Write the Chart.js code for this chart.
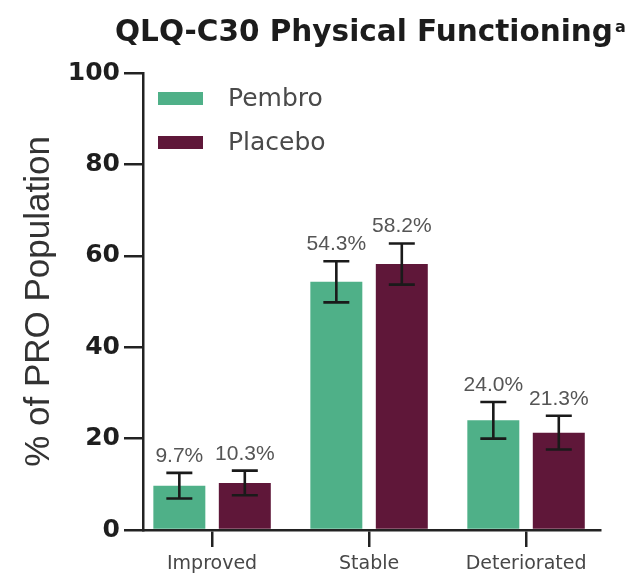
<!DOCTYPE html>
<html>
<head>
<meta charset="utf-8">
<title>QLQ-C30 Physical Functioning</title>
<script src="https://cdn.jsdelivr.net/npm/chart.js@4.4.1/dist/chart.umd.min.js"></script>
<style>
  html, body { margin: 0; padding: 0; background: #ffffff; }
  #wrap { width: 637px; height: 576px; position: relative; }
  canvas { display: block; }
</style>
</head>
<body>
<div id="wrap"><canvas id="chart" width="637" height="576"></canvas></div>
<script>
// Response categories on the x axis
const categories = ['Improved', 'Stable', 'Deteriorated'];

// Series names
const seriesNames = ['Pembro', 'Placebo'];

// Percent of PRO population per category
const pembroValues = [9.7, 54.3, 24.0];
const placeboValues = [10.3, 58.2, 21.3];

// Half-width of the error bars (percentage points)
const pembroErrors = [2.8, 4.5, 4.0];
const placeboErrors = [2.7, 4.5, 3.7];

// Y axis ticks
const yTicks = [0, 20, 40, 60, 80, 100];

const chartTitle = 'QLQ-C30 Physical Functioning';
const chartTitleNote = 'a';
const yAxisTitle = '% of PRO Population';

const seriesColors = ['#4fb088', '#5f1739'];

const toPoints = (values) => values.map((v, i) => ({ x: i, y: v }));

// Title with a superscript footnote marker
const titlePlugin = {
  id: 'titleWithNote',
  afterDraw(chart) {
    const ctx = chart.ctx;
    ctx.save();
    ctx.fillStyle = '#1c1c1c';
    ctx.textAlign = 'left';
    ctx.textBaseline = 'alphabetic';
    ctx.font = 'bold 29.5px "DejaVu Sans"';
    const x0 = 115;
    ctx.fillText(chartTitle, x0, 41);
    const w = ctx.measureText(chartTitle).width;
    ctx.font = 'bold 16px "DejaVu Sans"';
    ctx.fillText(chartTitleNote, x0 + w + 2, 32);
    ctx.restore();
  }
};

// Legend in the upper-left of the plot area
const legendPlugin = {
  id: 'insideLegend',
  afterDraw(chart) {
    const ctx = chart.ctx;
    ctx.save();
    chart.data.datasets.forEach((ds, i) => {
      const cy = 98.5 + i * 44;
      ctx.fillStyle = ds.backgroundColor;
      ctx.fillRect(158, cy - 6.5, 45, 13);
      ctx.fillStyle = '#4a4a4a';
      ctx.font = '25px "DejaVu Sans"';
      ctx.textAlign = 'left';
      ctx.textBaseline = 'middle';
      ctx.fillText(ds.label, 228, cy + 1);
    });
    ctx.restore();
  }
};

// Error bars and value labels on top of each bar
const errorBarPlugin = {
  id: 'errorBars',
  afterDatasetsDraw(chart) {
    const ctx = chart.ctx;
    const yScale = chart.scales.y;
    ctx.save();
    chart.data.datasets.forEach((ds, di) => {
      const meta = chart.getDatasetMeta(di);
      meta.data.forEach((bar, i) => {
        const v = ds.data[i].y;
        const e = ds.errors[i];
        const x = bar.x;
        const yTop = yScale.getPixelForValue(v + e);
        const yBot = yScale.getPixelForValue(v - e);
        ctx.strokeStyle = '#1a1a1a';
        ctx.lineWidth = 2.6;
        ctx.beginPath();
        ctx.moveTo(x, yTop);
        ctx.lineTo(x, yBot);
        ctx.moveTo(x - 13, yTop);
        ctx.lineTo(x + 13, yTop);
        ctx.moveTo(x - 13, yBot);
        ctx.lineTo(x + 13, yBot);
        ctx.stroke();

        ctx.fillStyle = '#555555';
        ctx.font = '21px "Liberation Sans"';
        ctx.textAlign = 'center';
        ctx.textBaseline = 'alphabetic';
        ctx.fillText(v.toFixed(1) + '%', x, yTop - 11);
      });
    });
    ctx.restore();
  }
};

new Chart(document.getElementById('chart'), {
  type: 'bar',
  data: {
    datasets: [
      {
        label: seriesNames[0],
        data: toPoints(pembroValues),
        errors: pembroErrors,
        backgroundColor: seriesColors[0],
        borderWidth: 0,
        categoryPercentage: 0.834,
        barPercentage: 0.794
      },
      {
        label: seriesNames[1],
        data: toPoints(placeboValues),
        errors: placeboErrors,
        backgroundColor: seriesColors[1],
        borderWidth: 0,
        categoryPercentage: 0.834,
        barPercentage: 0.794
      }
    ]
  },
  options: {
    responsive: false,
    animation: false,
    devicePixelRatio: 1,
    layout: { padding: { top: 73, right: 37, left: 0, bottom: 0 } },
    plugins: {
      legend: { display: false },
      title: { display: false },
      tooltip: { enabled: false }
    },
    scales: {
      x: {
        type: 'linear',
        min: -0.44,
        max: 2.471,
        offset: false,
        z: 1,
        grid: {
          display: true,
          offset: false,
          drawOnChartArea: false,
          drawTicks: true,
          tickLength: 17,
          color: '#222222',
          lineWidth: 2.5
        },
        border: { display: true, color: '#222222', width: 2.5 },
        ticks: {
          stepSize: 1,
          includeBounds: false,
          autoSkip: false,
          maxRotation: 0,
          minRotation: 0,
          padding: 6,
          color: '#474747',
          font: { family: '"DejaVu Sans"', size: 19 },
          callback: (v) => (categories[v] !== undefined ? categories[v] : '')
        },
        afterFit: (s) => { s.height = 46; }
      },
      y: {
        min: yTicks[0],
        max: yTicks[yTicks.length - 1],
        z: 1,
        afterBuildTicks: (s) => { s.ticks = yTicks.map((v) => ({ value: v })); },
        grid: {
          drawOnChartArea: false,
          drawTicks: true,
          tickLength: 19,
          color: '#222222',
          lineWidth: 2.5
        },
        border: { display: true, color: '#222222', width: 2.5 },
        ticks: {
          padding: 4,
          color: '#1e1e1e',
          font: { family: '"DejaVu Sans"', size: 25, weight: 'bold' }
        },
        title: {
          display: true,
          text: yAxisTitle,
          color: '#333333',
          font: { family: '"Liberation Sans"', size: 35 },
          padding: { top: 18, bottom: 0 }
        },
        afterFit: (s) => { s.width = 143; }
      }
    }
  },
  plugins: [titlePlugin, legendPlugin, errorBarPlugin]
});
</script>
</body>
</html>
